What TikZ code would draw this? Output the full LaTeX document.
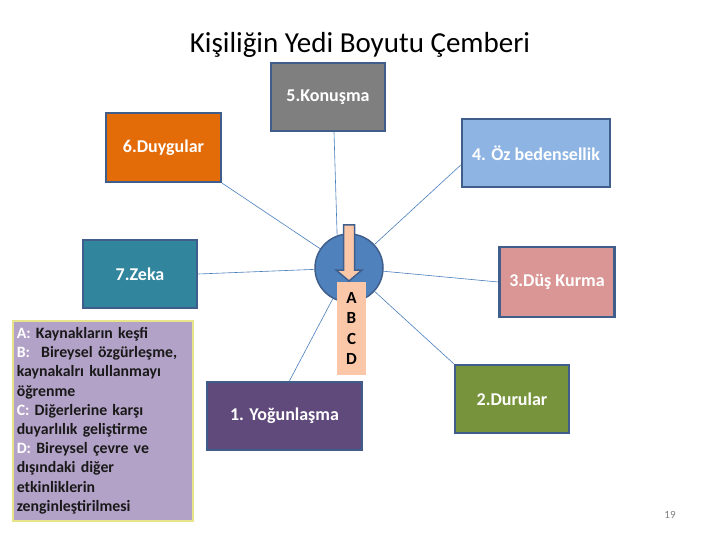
\documentclass[tikz,border=0pt]{standalone}
\usepackage{fontspec}
\setmainfont{Carlito}
\usepackage{xcolor}
\usepackage{tikz}
\usetikzlibrary{positioning}

\definecolor{frame}{HTML}{3F5E8C}
\definecolor{linkblue}{HTML}{4A7EBB}
\definecolor{konusma}{HTML}{7F7F7F}
\definecolor{duygular}{HTML}{E36C09}
\definecolor{oz}{HTML}{8EB4E3}
\definecolor{zeka}{HTML}{31859C}
\definecolor{dus}{HTML}{D99694}
\definecolor{durular}{HTML}{77933C}
\definecolor{yogun}{HTML}{604A7B}
\definecolor{legendfill}{HTML}{B3A2C7}
\definecolor{legendedge}{HTML}{E8E48A}
\definecolor{core}{HTML}{4F81BD}
\definecolor{peach}{HTML}{FAC8A8}

\begin{document}
\begin{tikzpicture}[y=-1pt,x=1pt,
	box/.style={draw=frame, line width=2.5pt, minimum height=68pt, text=white,
		font=\bfseries\fontsize{18}{21}\selectfont},
	link/.style={draw=linkblue, line width=0.6pt}]
	\useasboundingbox (0,0) rectangle (720,540);

	\node[font=\fontsize{29}{34}\selectfont] (title) at (360,45) {Kişiliğin Yedi Boyutu Çemberi};

	% the seven boxes
	\node[box, fill=konusma, minimum width=114pt] (kon) at (328,97) {5.Konuşma};
	\node[box, fill=duygular, minimum width=115pt, minimum height=69pt] (duy) at (163.5,147.5) {6.Duygular};
	\node[box, fill=oz, minimum width=148pt] (oz) at (536,153) {4. Öz bedensellik};
	\node[box, fill=zeka, minimum width=114pt] (zeka) at (140,274) {7.Zeka};
	\node[box, fill=dus, minimum width=115pt, minimum height=70pt] (dus) at (557,282) {3.Düş Kurma};
	\node[box, fill=durular, minimum width=114pt] (dur) at (512,399) {2.Durular};
	\node[box, fill=yogun, minimum width=155pt] (yog) at (284.5,416) {1. Yoğunlaşma};

	% centre circle
	\node[circle, draw=frame, line width=1.5pt, fill=core, minimum size=68pt, inner sep=0pt] (circ) at (349,268) {};

	\draw[link] ([xshift=6pt]kon.south) -- (circ.110);
	\draw[link] (duy.south east) -- (circ);
	\draw[link] ([yshift=-12pt]oz.west) -- (circ);
	\draw[link] (zeka.east) -- (circ);
	\draw[link] (dus.west) -- (circ);
	\draw[link] (dur.north west) -- (circ);
	\draw[link] ([xshift=5pt]yog.north) -- (circ);

	\node[fill=peach, minimum width=29pt, minimum height=93pt, inner sep=0pt, align=center,
		font=\bfseries\fontsize{17}{20.3}\selectfont] (abcd) at (351.5,328.5) {A\\B\\C\\D};
	\draw[draw=frame, line width=1.5pt, fill=peach, line join=miter]
		(343.5,225) -- (354.5,225) -- (354.5,270) -- (362,270) -- (349,281)
		-- (336,270) -- (343.5,270) -- cycle;

	% legend
	\node[draw=legendedge, line width=1.5pt, fill=legendfill, text width=172pt, minimum height=200pt,
		inner xsep=4pt, inner ysep=3pt, align=left, anchor=north west, text=black!90,
		font=\bfseries\fontsize{15.8}{19.2}\selectfont] (legend) at (12,320)
		{\textcolor{white}{A:} Kaynakların keşfi\\
		\textcolor{white}{B:}\hspace{6pt} Bireysel özgürleşme,\\
		kaynakalrı kullanmayı\\
		öğrenme\\
		\textcolor{white}{C:} Diğerlerine karşı\\
		duyarlılık geliştirme\\
		\textcolor{white}{D:} Bireysel çevre ve\\
		dışındaki diğer\\
		etkinliklerin\\
		zenginleştirilmesi};

	\node[text=gray, font=\fontsize{11}{13}\selectfont] (pagenum) at (670,515) {19};
\end{tikzpicture}
\end{document}
